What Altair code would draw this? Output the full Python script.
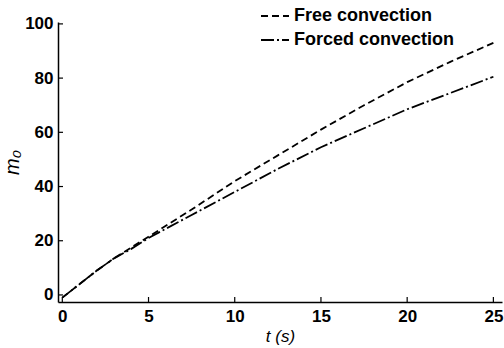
import altair as alt
import pandas as pd

t_values = [0, 1, 2, 3, 4, 5, 7.5, 10, 12.5, 15, 17.5, 20, 22.5, 25]
free_conv = [-1, 4, 9, 13.5, 17.5, 21.5, 31.5, 42, 51.5, 61, 70, 78.5, 86, 93]
forced_conv = [-1, 4, 9, 13.5, 17, 21, 29.5, 38, 46.5, 54.5, 61.5, 68.5, 74.5, 80.5]
series_names = ["Free convection", "Forced convection"]
x_ticks = [0, 5, 10, 15, 20, 25]
y_ticks = [0, 20, 40, 60, 80, 100]

rows = []
for t, a, b in zip(t_values, free_conv, forced_conv):
    rows.append({"t": t, "m": a, "series": series_names[0]})
    rows.append({"t": t, "m": b, "series": series_names[1]})
df = pd.DataFrame(rows)

FONT = "Liberation Sans"
W, H = 444, 280
xs = alt.Scale(domain=[-0.25, 25.5], nice=False, zero=False)
ys = alt.Scale(domain=[-2.6, 100.7], nice=False, zero=False)

lines = alt.Chart(df).mark_line(color="black", strokeWidth=1.8).encode(
    x=alt.X("t:Q", scale=xs,
            axis=alt.Axis(values=x_ticks, title="t (s)", tickSize=0, labelPadding=6,
                          titlePadding=4, titleFontStyle="italic")),
    y=alt.Y("m:Q", scale=ys,
            axis=alt.Axis(values=y_ticks, title="m₀", tickSize=0, labelPadding=5,
                          titlePadding=2, titleFontStyle="italic", titleFontSize=20)),
    strokeDash=alt.StrokeDash(
        "series:N",
        scale=alt.Scale(domain=series_names, range=[[7, 4], [13, 3, 2, 3]]),
        legend=alt.Legend(title=None, orient="none", legendX=202, legendY=-21,
                          symbolType="stroke", symbolSize=784, symbolStrokeWidth=1.8,
                          symbolStrokeColor="black", labelFont=FONT, labelFontSize=18,
                          labelFontWeight="bold", labelColor="black", labelOffset=4,
                          labelLimit=400, rowPadding=-6),
    ),
    detail="series:N",
)

xt = alt.Chart(pd.DataFrame({"v": x_ticks})).mark_rule(color="black", strokeWidth=1.2).encode(
    x=alt.X("v:Q", scale=xs), y=alt.value(H), y2=alt.value(H - 5))
yt = alt.Chart(pd.DataFrame({"v": y_ticks})).mark_rule(color="black", strokeWidth=1.2).encode(
    y=alt.Y("v:Q", scale=ys), x=alt.value(0), x2=alt.value(5))

chart = alt.layer(lines, xt, yt).properties(
    width=W, height=H,
    autosize=alt.AutoSizeParams(type="none"),
    padding={"left": 58, "top": 22, "right": 2, "bottom": 46},
).configure_view(stroke=None).configure_axis(
    grid=False, domainColor="black", domainWidth=1.5,
    labelFont=FONT, labelFontSize=17, labelFontWeight="bold", labelColor="black",
    titleFont=FONT, titleFontSize=17, titleFontWeight="normal", titleColor="black",
)

chart.save("out.html", embed_options={"renderer": "svg", "actions": False})
